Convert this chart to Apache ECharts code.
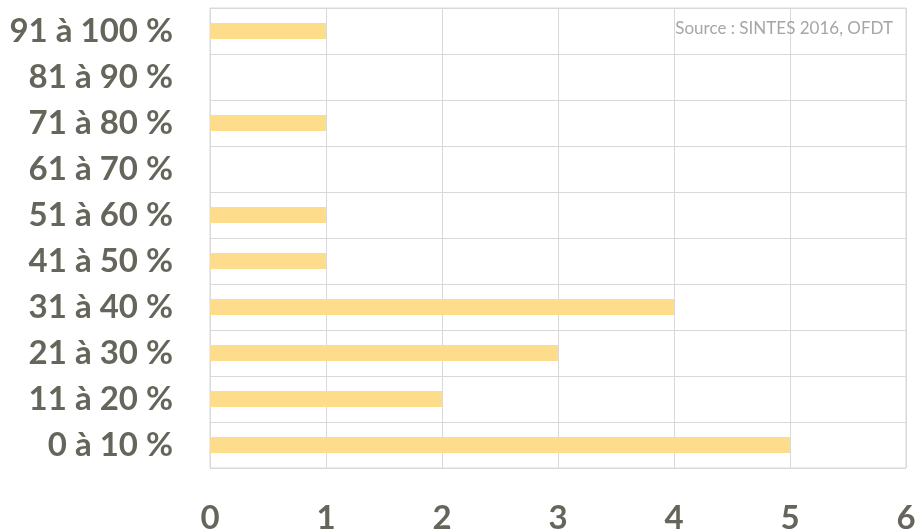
<!DOCTYPE html>
<html>
<head>
<meta charset="utf-8">
<script src="https://cdn.jsdelivr.net/npm/echarts@6/dist/echarts.min.js"></script>
<style>
  html, body { margin: 0; padding: 0; background: #ffffff; }
  #chart { width: 915px; height: 529px; }
</style>
</head>
<body>
<div id="chart"></div>
<script>
// Tranches de pourcentage, de bas en haut
const categories = ['0 à 10 %', '11 à 20 %', '21 à 30 %', '31 à 40 %', '41 à 50 %',
                    '51 à 60 %', '61 à 70 %', '71 à 80 %', '81 à 90 %', '91 à 100 %'];
// Nombre d'échantillons par tranche
const counts = [5, 2, 3, 4, 1, 1, 0, 1, 0, 1];
const xTicks = [0, 1, 2, 3, 4, 5, 6];
const sourceText = 'Source : SINTES 2016, OFDT';

const labelColor = '#66655b';
const gridColor = '#d9d9d9';

const chart = echarts.init(document.getElementById('chart'));
chart.setOption({
  animation: false,
  title: {
    text: sourceText,
    right: 17,
    top: 15,
    textStyle: { fontFamily: 'Lato', fontWeight: 'normal', fontSize: 17, color: '#a6a6a6' }
  },
  grid: {
    left: 210, right: 9, top: 8, bottom: 61,
    outerBoundsMode: 'none',
    containLabel: false,
    show: true, borderColor: gridColor, borderWidth: 1
  },
  xAxis: {
    type: 'value',
    min: xTicks[0],
    max: xTicks[xTicks.length - 1],
    interval: 1,
    axisLine: { show: false },
    axisTick: { show: false },
    splitLine: { show: true, lineStyle: { color: gridColor, width: 1 } },
    axisLabel: {
      margin: 34,
      fontFamily: 'Lato', fontWeight: 'bold', fontSize: 33, color: labelColor
    }
  },
  yAxis: {
    type: 'category',
    data: categories,
    axisLine: { show: false },
    axisTick: { show: false },
    splitLine: { show: true, lineStyle: { color: gridColor, width: 1 } },
    axisLabel: {
      margin: 37,
      fontFamily: 'Lato', fontWeight: 'bold', fontSize: 33, color: labelColor
    }
  },
  series: [{
    type: 'bar',
    data: counts,
    barWidth: 16,
    itemStyle: { color: '#fddd8c' }
  }]
});
</script>
</body>
</html>
